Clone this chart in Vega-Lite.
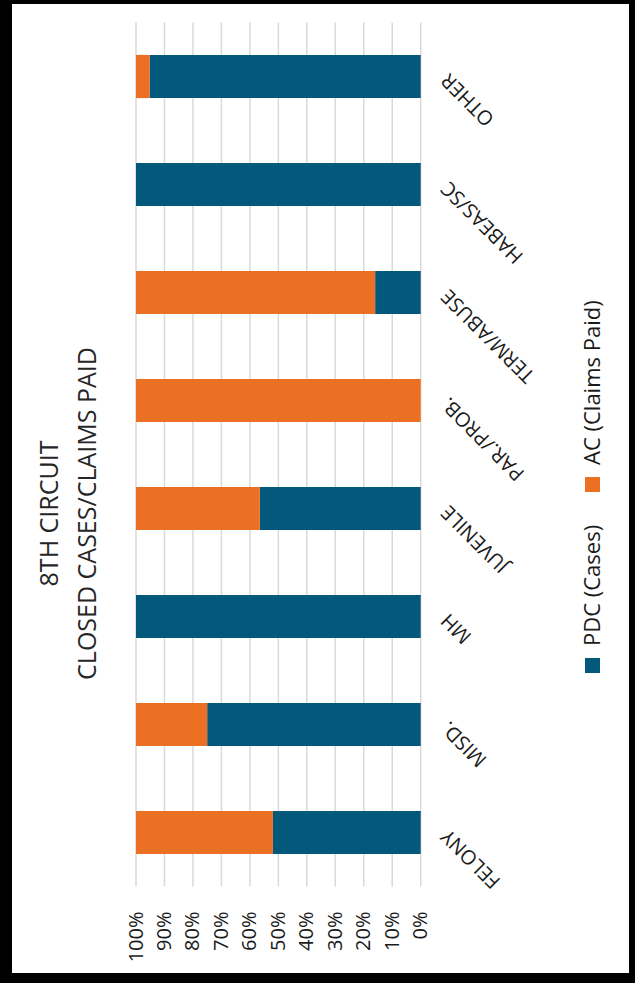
{
  "$schema": "https://vega.github.io/schema/vega-lite/v6.json",
  "width": 617,
  "height": 969,
  "autosize": {"type": "none"},
  "padding": {"left": 12, "top": 4, "right": 6, "bottom": 10},
  "background": "#000000",
  "config": {"view": {"fill": "#ffffff", "stroke": null}, "font": "Open Sans"},
  "title": {
    "text": ["8TH CIRCUIT", "CLOSED CASES/CLAIMS PAID"],
    "orient": "left",
    "anchor": "middle",
    "frame": "group",
    "offset": -89,
    "fontSize": 25,
    "fontWeight": "normal",
    "color": "#262626",
    "lineHeight": 38,
    "dx": -25
  },
  "datasets": {
    "bars": [
      {"category": "FELONY", "series": "PDC (Cases)", "share": 0.519},
      {"category": "FELONY", "series": "AC (Claims Paid)", "share": 0.481},
      {"category": "MISD.", "series": "PDC (Cases)", "share": 0.75},
      {"category": "MISD.", "series": "AC (Claims Paid)", "share": 0.25},
      {"category": "MH", "series": "PDC (Cases)", "share": 1.0},
      {"category": "MH", "series": "AC (Claims Paid)", "share": 0.0},
      {"category": "JUVENILE", "series": "PDC (Cases)", "share": 0.565},
      {"category": "JUVENILE", "series": "AC (Claims Paid)", "share": 0.435},
      {"category": "PAR./PROB.", "series": "PDC (Cases)", "share": 0.0},
      {"category": "PAR./PROB.", "series": "AC (Claims Paid)", "share": 1.0},
      {"category": "TERM/ABUSE", "series": "PDC (Cases)", "share": 0.16},
      {"category": "TERM/ABUSE", "series": "AC (Claims Paid)", "share": 0.84},
      {"category": "HABEAS/SC", "series": "PDC (Cases)", "share": 1.0},
      {"category": "HABEAS/SC", "series": "AC (Claims Paid)", "share": 0.0},
      {"category": "OTHER", "series": "PDC (Cases)", "share": 0.952},
      {"category": "OTHER", "series": "AC (Claims Paid)", "share": 0.048}
    ],
    "grid": [
      {"g": 0}, {"g": 0.1}, {"g": 0.2}, {"g": 0.3}, {"g": 0.4}, {"g": 0.5},
      {"g": 0.6}, {"g": 0.7}, {"g": 0.8}, {"g": 0.9}, {"g": 1}
    ]
  },
  "layer": [
    {
      "data": {"name": "grid"},
      "mark": {"type": "rule", "color": "#D9D9D9", "strokeWidth": 1.5},
      "encoding": {
        "x": {
          "field": "g",
          "type": "quantitative",
          "scale": {"domain": [0, 1], "range": [408.7, 124], "nice": false},
          "axis": {
            "orient": "bottom",
            "offset": -86.5,
            "values": [0, 0.1, 0.2, 0.3, 0.4, 0.5, 0.6, 0.7, 0.8, 0.9, 1],
            "format": ".0%",
            "labelAngle": -90,
            "labelAlign": "right",
            "labelBaseline": "middle",
            "labelPadding": 24.5,
            "ticks": false,
            "domain": false,
            "grid": false,
            "labelFontSize": 20,
            "labelColor": "#1a1a1a",
            "labelFlush": false,
            "labelOverlap": false,
            "title": null
          }
        },
        "y": {"datum": 0, "type": "quantitative", "scale": {"domain": [0, 1], "range": [18.5, 882.5], "nice": false}, "axis": null},
        "y2": {"datum": 1}
      }
    },
    {
      "data": {"name": "bars"},
      "mark": {"type": "bar"},
      "encoding": {
        "y": {
          "field": "category",
          "type": "nominal",
          "sort": ["OTHER", "HABEAS/SC", "TERM/ABUSE", "PAR./PROB.", "JUVENILE", "MH", "MISD.", "FELONY"],
          "scale": {"range": [18.5, 882.5], "paddingInner": 0.6, "paddingOuter": 0.3},
          "axis": {
            "orient": "right",
            "offset": -208.3,
            "title": null,
            "labelAngle": 225,
            "labelAlign": "right",
            "labelBaseline": "middle",
            "labelPadding": 24,
            "ticks": false,
            "domain": false,
            "grid": false,
            "labelFontSize": 20,
            "labelColor": "#1a1a1a",
            "labelLimit": 0,
            "labelOverlap": false
          }
        },
        "x": {
          "field": "share",
          "type": "quantitative",
          "stack": "zero",
          "scale": {"domain": [0, 1], "range": [408.7, 124], "nice": false},
          "axis": {
            "orient": "bottom",
            "offset": -86.5,
            "values": [0, 0.1, 0.2, 0.3, 0.4, 0.5, 0.6, 0.7, 0.8, 0.9, 1],
            "format": ".0%",
            "labelAngle": -90,
            "labelAlign": "right",
            "labelBaseline": "middle",
            "labelPadding": 24.5,
            "ticks": false,
            "domain": false,
            "grid": false,
            "labelFontSize": 20,
            "labelColor": "#1a1a1a",
            "labelFlush": false,
            "labelOverlap": false,
            "title": null
          }
        },
        "color": {
          "field": "series",
          "type": "nominal",
          "scale": {"domain": ["AC (Claims Paid)", "PDC (Cases)"], "range": ["#EB7024", "#03597C"]},
          "legend": {
            "orient": "none",
            "legendX": 573,
            "legendY": 473,
            "direction": "vertical",
            "title": null,
            "symbolType": "square",
            "symbolSize": 225,
            "symbolStrokeWidth": 0,
            "symbolOpacity": 1,
            "labelFontSize": 22,
            "labelLimit": 0,
            "labelColor": "#1a1a1a",
            "labelAlign": "left",
            "labelBaseline": "middle",
            "rowPadding": 32,
            "padding": 0,
            "encode": {
              "symbols": {"update": {"x": {"value": 7.5}, "y": {"value": 7.5}}},
              "labels": {"update": {"angle": {"value": -90}, "x": {"value": 7.5}, "y": {"value": -12}}}
            }
          }
        },
        "order": {"field": "series", "sort": "descending"}
      }
    }
  ],
  "resolve": {"scale": {"y": "independent"}}
}
